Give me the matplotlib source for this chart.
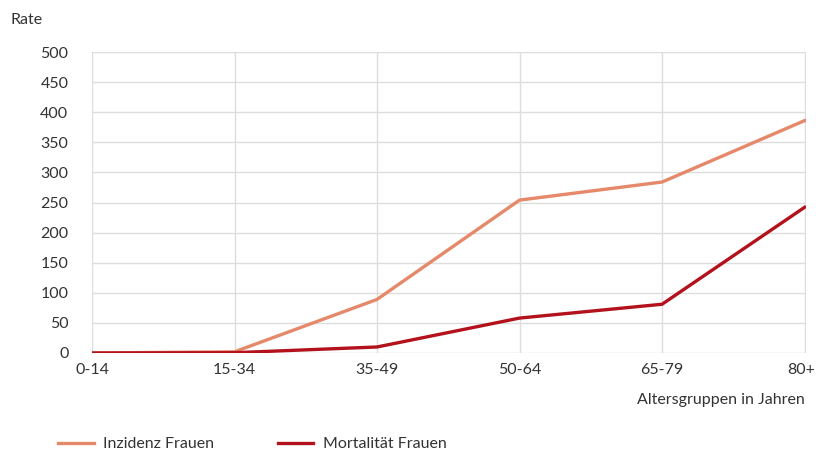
import matplotlib
matplotlib.use("Agg")
import matplotlib.pyplot as plt
import matplotlib.transforms as mtransforms

# age groups and rates per 100,000 women
age_groups = ["0-14", "15-34", "35-49", "50-64", "65-79", "80+"]
incidence = [0, 2, 89, 254, 284, 386]
mortality = [0, 0.5, 10, 58, 81, 242]
y_ticks = [0, 50, 100, 150, 200, 250, 300, 350, 400, 450, 500]

plt.rcParams['font.family'] = ['Lato', 'DejaVu Sans']
text_col = '#333333'
fs = 11.5

fig = plt.figure(figsize=(8.16, 4.53), dpi=100)
ax = fig.add_axes([92/816, 1 - 353/453, (806 - 92)/816, (353 - 52)/453])

x = list(range(len(age_groups)))
ax.plot(x, incidence, color='#E5896A', lw=2.4, label='Inzidenz Frauen',
        solid_joinstyle='miter', zorder=3)
ax.plot(x, mortality, color='#B3121D', lw=2.4, label='Mortalität Frauen',
        solid_joinstyle='miter', zorder=4)

ax.set_xlim(0, 5.01)
ax.set_ylim(0, 500)
ax.set_xticks(x)
ax.set_xticklabels(age_groups)
ax.set_yticks(y_ticks)
ax.tick_params(length=0, labelsize=fs, colors=text_col)
ax.tick_params(axis='y', pad=17)
ax.tick_params(axis='x', pad=7)
ax.grid(True, color='#dddddd', lw=1)
ax.set_axisbelow(True)
for s in ax.spines.values():
    s.set_visible(False)

# keep the last x label inside the figure edge
last = ax.get_xticklabels()[-1]
last.set_transform(last.get_transform() +
                   mtransforms.ScaledTranslation(-3/100, 0, fig.dpi_scale_trans))

fig.text(10/816, 1 - 20/453, 'Rate', fontsize=fs, color=text_col, va='center')
fig.text(805/816, 1 - 400/453, 'Altersgruppen in Jahren', fontsize=fs,
         color=text_col, va='center', ha='right')

fig.legend(loc='center left', bbox_to_anchor=(44/816, 1 - 444/453), ncol=2,
           frameon=False, fontsize=fs, handlelength=2.2, handletextpad=0.6,
           columnspacing=4.0, labelcolor=text_col)

fig.savefig('out.png', dpi=100)
